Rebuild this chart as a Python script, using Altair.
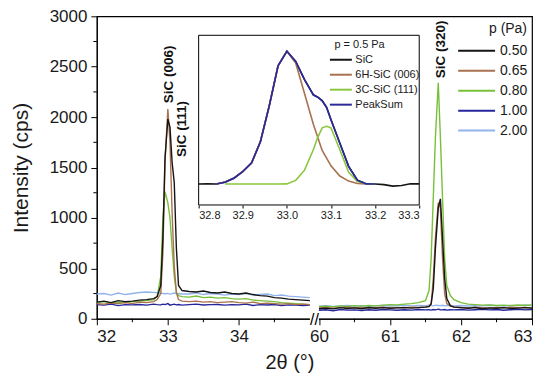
import altair as alt
import pandas as pd

GAP = 0.127
SHIFT = 60.0 - 35.0 - GAP  # maps 60 -> 35.127 on the broken axis

p_levels = ["0.50", "0.65", "0.80", "1.00", "2.00"]
p_colors = ["#151515", "#a8714f", "#79c03a", "#26269c", "#93b3ec"]

x_left = [32.0, 32.1, 32.2, 32.3, 32.4, 32.5, 32.6, 32.7, 32.8,
          32.85, 32.9, 32.93, 32.96, 33.0, 33.03, 33.06, 33.09, 33.12, 33.15, 33.2,
          33.3, 33.4, 33.5, 33.6, 33.7, 33.8, 33.9, 34.0, 34.1, 34.2, 34.3, 34.4,
          34.5, 34.6, 34.7, 34.8, 34.9, 35.0]
x_right = [60.0, 60.1, 60.2, 60.3, 60.4, 60.5, 60.6, 60.7, 60.8, 60.9, 61.0, 61.1,
           61.2, 61.3, 61.4, 61.5,
           61.55, 61.58, 61.61, 61.64, 61.68, 61.71, 61.74, 61.77, 61.8, 61.85, 61.9,
           62.0, 62.1, 62.2, 62.3, 62.4, 62.5, 62.6, 62.7, 62.8, 62.9, 63.0]

left_050 = [165, 175, 160, 180, 170, 175, 185, 190, 200,
            220, 330, 800, 1600, 1980, 1900, 1550, 1350, 700, 330, 280,
            270, 265, 275, 260, 255, 265, 250, 245, 255, 240, 230, 225, 210, 205, 195, 190, 185, 180]
left_065 = [150, 145, 155, 150, 160, 150, 165, 160, 170,
            190, 250, 650, 1550, 2080, 1750, 1050, 520, 260, 190, 175,
            170, 175, 165, 170, 160, 165, 170, 160, 155, 165, 150, 155, 150, 145, 150, 140, 145, 140]
left_080 = [160, 170, 155, 165, 160, 170, 175, 180, 190,
            220, 420, 1000, 1260, 1150, 1000, 700, 420, 260, 230, 220,
            215, 225, 210, 215, 205, 210, 200, 195, 200, 185, 180, 175, 170, 160, 155, 150, 145, 140]
left_100 = [140, 135, 145, 130, 140, 138, 142, 135, 145,
            140, 138, 145, 140, 150, 135, 140, 145, 138, 142, 135,
            140, 145, 136, 140, 142, 135, 140, 138, 145, 132, 140, 136, 142, 130, 138, 135, 132, 135]
left_200 = [245, 250, 235, 255, 240, 250, 260, 265, 262,
            258, 255, 250, 248, 252, 245, 250, 255, 248, 250, 245,
            245, 255, 240, 250, 245, 235, 245, 240, 250, 235, 240, 245, 230, 235, 225, 220, 215, 210]

right_050 = [100, 105, 98, 110, 102, 108, 100, 112, 105, 110, 104, 108, 112, 106, 110, 115,
             120, 150, 300, 700, 1100, 1190, 800, 400, 200, 130, 115,
             110, 105, 112, 100, 108, 104, 110, 102, 106, 110, 105]
right_065 = [108, 112, 105, 110, 115, 108, 112, 106, 110, 114, 108, 112, 110, 115, 112, 118,
             125, 140, 400, 800, 1150, 1100, 600, 250, 150, 125, 118,
             112, 108, 115, 110, 106, 112, 108, 114, 110, 112, 108]
right_080 = [120, 125, 118, 128, 122, 130, 125, 132, 128, 135, 140, 138, 145, 150, 160, 180,
             280, 600, 1200, 1800, 2340, 1800, 1200, 600, 330, 230, 190,
             160, 145, 140, 135, 138, 132, 135, 130, 136, 132, 138]
right_100 = [85, 90, 80, 92, 86, 88, 82, 90, 85, 92, 88, 84, 90, 86, 92, 88,
             90, 86, 92, 88, 95, 90, 88, 92, 86, 90, 88,
             92, 86, 90, 95, 88, 92, 85, 90, 94, 88, 92]
right_200 = [125, 130, 122, 128, 132, 126, 130, 124, 128, 132, 126, 130, 135, 128, 132, 130,
             135, 130, 128, 135, 132, 130, 134, 128, 132, 130, 128,
             132, 126, 130, 128, 134, 130, 126, 132, 130, 136, 132]

left_vals = dict(zip(p_levels, [left_050, left_065, left_080, left_100, left_200]))
right_vals = dict(zip(p_levels, [right_050, right_065, right_080, right_100, right_200]))

# inset (p = 0.5 Pa fit)
ins_components = ["SiC", "6H-SiC (006)", "3C-SiC (111)", "PeakSum"]
ins_colors = ["#151515", "#a8714f", "#8cc63f", "#2a2a9c"]
ins_x_sic = [32.80, 32.82, 32.84, 32.86, 32.88, 32.90, 32.92, 32.94, 32.96, 32.98,
             33.00, 33.02, 33.04, 33.06, 33.07, 33.08, 33.09, 33.10,
             33.12, 33.14, 33.16, 33.18, 33.20, 33.22, 33.24, 33.26, 33.28, 33.30]
ins_y_sic = [180, 182, 180, 207, 262, 352, 468, 762, 1252, 1802,
             2003, 1862, 1612, 1405, 1372, 1325, 1232, 1062,
             742, 422, 232, 183, 180, 172, 152, 160, 184, 182]
ins_x_6h = [32.84, 32.86, 32.88, 32.90, 32.92, 32.94, 32.96, 32.98, 33.00, 33.02,
            33.04, 33.06, 33.08, 33.10, 33.12, 33.14, 33.16, 33.18, 33.20]
ins_y_6h = [180, 205, 260, 350, 470, 760, 1250, 1800, 2000, 1840,
            1420, 1000, 640, 430, 290, 220, 188, 181, 180]
ins_x_3c = [32.86, 32.90, 32.94, 32.98, 33.00, 33.02, 33.04, 33.06, 33.07, 33.08,
            33.09, 33.10, 33.11, 33.12, 33.14, 33.16, 33.18, 33.20]
ins_y_3c = [180, 180, 180, 180, 182, 230, 370, 650, 820, 950,
            972, 950, 800, 650, 340, 215, 183, 180]
ins_x_pk = [32.84, 32.86, 32.88, 32.90, 32.92, 32.94, 32.96, 32.98, 33.00, 33.02,
            33.04, 33.06, 33.07, 33.08, 33.09, 33.10, 33.12, 33.14, 33.16, 33.18, 33.20]
ins_y_pk = [180, 205, 260, 350, 470, 760, 1250, 1800, 2000, 1860,
            1610, 1400, 1370, 1320, 1230, 1060, 740, 420, 230, 182, 180]

INSET_X = [32.8, 33.3]
INSET_Y = [-107, 2219]

peak_labels = ["SiC (006)", "SiC (111)", "SiC (320)"]
peak_label_x = [33.012, 33.194, 61.717]
peak_label_y = [2139, 1604, 2386]

x_major = [32, 33, 34, 60, 61, 62, 63]
x_minor = [32.5, 33.5, 34.5, 60.5, 61.5, 62.5]
y_minor = [250, 750, 1250, 1750, 2250, 2750]

WIDE_LINE = "M-2,0L2,0"


def brk(v):
    return round(v - SHIFT, 4) if v >= 50 else v


rows = []
for p in reversed(p_levels):
    for xv, yv in zip(x_left, left_vals[p]):
        rows.append({"p": p, "seg": "L", "xt": xv, "y": yv})
    for xv, yv in zip(x_right, right_vals[p]):
        rows.append({"p": p, "seg": "R", "xt": brk(xv), "y": yv})
df = pd.DataFrame(rows)

irows = []
for comp, xs, ys in zip(ins_components, [ins_x_sic, ins_x_6h, ins_x_3c, ins_x_pk],
                        [ins_y_sic, ins_y_6h, ins_y_3c, ins_y_pk]):
    for xv, yv in zip(xs, ys):
        irows.append({"comp": comp, "x": xv, "y": yv})
idf = pd.DataFrame(irows)

xscale = alt.Scale(domain=[32, brk(63)], nice=False, zero=False)
yscale = alt.Scale(domain=[0, 3000], nice=False)

x_axis = alt.Axis(
    values=[brk(v) for v in x_major],
    labelExpr="datum.value < 35.05 ? format(datum.value, 'd') : format(datum.value + %s, '.0f')" % SHIFT,
    title="2θ (°)", titleFontSize=20, titleFontWeight="normal", titleX=193,
    titlePadding=8, labelFontSize=17, labelPadding=4, tickSize=6, grid=False,
    domainColor="#000", tickColor="#000", labelColor="#1a1a1a", titleColor="#1a1a1a",
)
y_axis = alt.Axis(
    values=[0, 500, 1000, 1500, 2000, 2500, 3000], format="d",
    title="Intensity (cps)", titleFontSize=21, titleFontWeight="normal",
    titlePadding=18, labelFontSize=17, labelPadding=4, tickSize=6, grid=False,
    domainColor="#000", tickColor="#000", labelColor="#1a1a1a", titleColor="#1a1a1a",
)

lines = alt.Chart(df).mark_line(strokeWidth=1.4).encode(
    x=alt.X("xt:Q", scale=xscale, axis=x_axis),
    y=alt.Y("y:Q", scale=yscale, axis=y_axis),
    color=alt.Color("p:N", scale=alt.Scale(domain=p_levels, range=p_colors),
                    legend=alt.Legend(orient="none", legendX=370, legendY=6, title="p (Pa)",
                                      titleFontSize=14, titleFontWeight="normal", titleAnchor="end",
                                      titlePadding=4,
                                      labelFontSize=14, symbolType=WIDE_LINE, symbolSize=342,
                                      symbolStrokeWidth=2, rowPadding=2, labelOffset=13,
                                      labelColor="#1a1a1a", titleColor="#1a1a1a")),
    detail="seg:N",
)

minor_x = alt.Chart(pd.DataFrame({"v": [brk(v) for v in x_minor]})).mark_rule(color="#000").encode(
    x=alt.X("v:Q", scale=xscale), y=alt.value(303), y2=alt.value(306.5))
minor_y = alt.Chart(pd.DataFrame({"v": y_minor})).mark_rule(color="#000").encode(
    y=alt.Y("v:Q", scale=yscale), x=alt.value(0), x2=alt.value(-3.5))

gap_df = pd.DataFrame({"a": [35.0], "b": [brk(60.0)], "m": [(35.0 + brk(60.0)) / 2]})
gap_white = alt.Chart(gap_df).mark_rule(color="white", strokeWidth=4).encode(
    x=alt.X("a:Q", scale=xscale), x2="b:Q", y=alt.value(303))
gap_mark = alt.Chart(gap_df).mark_text(text="//", fontSize=16, baseline="middle", align="center").encode(
    x=alt.X("m:Q", scale=xscale), y=alt.value(304))

lbl_df = pd.DataFrame({"t": peak_labels, "x": [brk(v) for v in peak_label_x], "y": peak_label_y})
peak_text = alt.Chart(lbl_df).mark_text(angle=270, align="left", baseline="middle",
                                         fontWeight="bold", fontSize=13.5, color="#111").encode(
    x=alt.X("x:Q", scale=xscale), y=alt.Y("y:Q", scale=yscale), text="t:N")

main = alt.layer(lines, minor_x, minor_y, gap_white, gap_mark, peak_text)

ixscale = alt.Scale(domain=INSET_X, range=[102, 323], nice=False, zero=False)
iyscale = alt.Scale(domain=INSET_Y, range=[189, 19], nice=False, zero=False)
ix_axis = alt.Axis(orient="bottom", offset=-114, values=[32.8, 32.9, 33.0, 33.1, 33.2, 33.3],
                   format=".1f", labelFontSize=11, tickSize=3, labelPadding=2, title=None,
                   domain=False, grid=False, tickColor="#000", labelColor="#1a1a1a")

box_df = pd.DataFrame({"x0": [INSET_X[0]], "x1": [INSET_X[1]], "y0": [INSET_Y[0]], "y1": [INSET_Y[1]]})
ibox = alt.Chart(box_df).mark_rect(fill="white", stroke="#000", strokeWidth=1).encode(
    x=alt.X("x0:Q", scale=ixscale, axis=ix_axis), x2="x1:Q",
    y=alt.Y("y0:Q", scale=iyscale, axis=None), y2="y1:Q")
ilines = alt.Chart(idf).mark_line(strokeWidth=1.6).encode(
    x=alt.X("x:Q", scale=ixscale, axis=ix_axis),
    y=alt.Y("y:Q", scale=iyscale, axis=None),
    color=alt.Color("comp:N", scale=alt.Scale(domain=ins_components, range=ins_colors),
                    legend=alt.Legend(orient="none", legendX=238, legendY=23, title="p = 0.5 Pa",
                                      titleFontSize=11, titleFontWeight="normal", labelFontSize=11,
                                      titlePadding=3,
                                      symbolType=WIDE_LINE, symbolSize=121, symbolStrokeWidth=2,
                                      rowPadding=3, labelOffset=8,
                                      labelColor="#1a1a1a", titleColor="#1a1a1a")),
)
inset = alt.layer(ibox, ilines)

chart = alt.layer(main, inset).resolve_scale(
    x="independent", y="independent", color="independent"
).properties(
    width=436, height=303,
    autosize=alt.AutoSizeParams(type="none"),
    padding={"left": 89, "top": 8, "right": 10, "bottom": 55},
).configure(font="Liberation Sans").configure_view(stroke="#000", strokeWidth=1.2)

chart.save("out.html", embed_options={"renderer": "svg", "actions": False})
